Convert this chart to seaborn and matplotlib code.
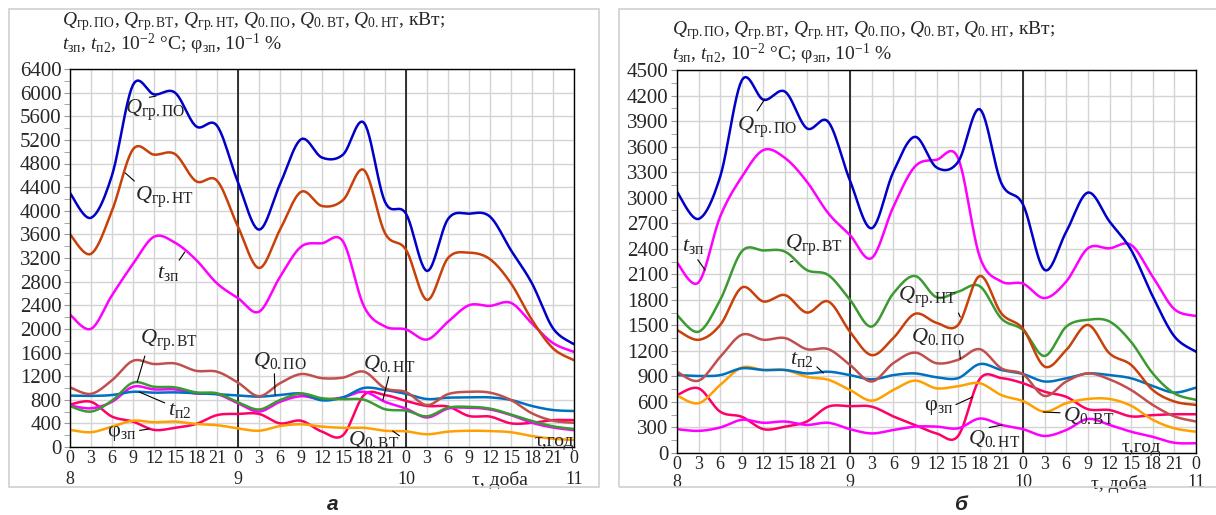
import numpy as np
import pandas as pd
import matplotlib.pyplot as plt
import seaborn as sns
from matplotlib.patches import Rectangle

sns.set_style('white')
plt.rcParams['font.family'] = ['Liberation Serif', 'DejaVu Serif']
plt.rcParams['mathtext.fontset'] = 'custom'
plt.rcParams['mathtext.rm'] = 'Liberation Serif'
plt.rcParams['mathtext.it'] = 'Liberation Serif:italic'
plt.rcParams['mathtext.bf'] = 'Liberation Serif:bold'

# hours from 0 h of day 8 to 0 h of day 11, every 3 h
hours = list(range(0, 73, 3))
hour_labels = [str(h % 24) for h in hours]
days = ['8', '9', '10', '11']

# ---- panel a ----
a_gr_po = [4300, 3880, 4600, 6130, 5970, 6000, 5430, 5440, 4480, 3680, 4450, 5210, 4900,
           4950, 5490, 4150, 3950, 2980, 3860, 3950, 3900, 3330, 2770, 2010, 1740]
a_gr_nt = [3600, 3270, 4000, 5040, 4950, 4960, 4500, 4510, 3730, 3030, 3680, 4320, 4080,
           4180, 4690, 3620, 3340, 2490, 3200, 3290, 3180, 2770, 2150, 1670, 1470]
a_t_zp = [2240, 2000, 2570, 3100, 3560, 3460, 3170, 2770, 2520, 2290, 2880, 3390, 3450,
          3480, 2380, 2040, 1990, 1820, 2120, 2400, 2390, 2440, 2090, 1760, 1610]
a_0_po = [1010, 900, 1130, 1460, 1405, 1415, 1290, 1275, 1090, 860, 1080, 1235, 1165,
          1175, 1275, 995, 930, 710, 895, 935, 920, 795, 570, 445, 410]
a_gr_vt = [690, 600, 785, 1090, 1020, 1010, 925, 910, 760, 635, 795, 905, 825,
           810, 800, 640, 615, 520, 665, 680, 650, 550, 440, 350, 305]
a_t_p2 = [870, 865, 880, 935, 920, 925, 910, 895, 870, 852, 880, 905, 790,
          840, 1000, 965, 900, 812, 835, 840, 840, 796, 694, 626, 609]
a_0_nt = [705, 655, 765, 1020, 975, 975, 905, 895, 740, 600, 765, 860, 805,
          840, 935, 765, 650, 500, 650, 665, 635, 540, 410, 330, 285]
a_phi = [720, 765, 515, 430, 290, 325, 390, 540, 560, 560, 400, 445, 260,
         200, 880, 880, 780, 695, 685, 525, 515, 400, 410, 455, 455]
a_0_vt = [290, 250, 345, 445, 420, 430, 390, 370, 315, 275, 355, 385, 345,
          325, 325, 275, 265, 215, 260, 275, 270, 250, 185, 140, 120]

# ---- panel b ----
b_gr_po = [3070, 2750, 3250, 4380, 4150, 4245, 3815, 3890, 3200, 2640, 3300, 3715, 3355,
           3420, 4040, 3170, 2920, 2150, 2600, 3060, 2720, 2385, 1840, 1370, 1190]
b_t_zp = [2235, 2005, 2780, 3245, 3560, 3465, 3190, 2815, 2560, 2290, 2890, 3365, 3445,
          3465, 2305, 2015, 1990, 1820, 2015, 2405, 2405, 2445, 2070, 1690, 1610]
b_gr_vt = [1620, 1425, 1800, 2370, 2380, 2365, 2150, 2090, 1800, 1485, 1875, 2080, 1830,
           1895, 1960, 1580, 1445, 1140, 1485, 1565, 1545, 1305, 935, 700, 625]
b_gr_nt = [1445, 1330, 1505, 1945, 1780, 1855, 1650, 1780, 1425, 1150, 1350, 1635, 1530,
           1505, 2080, 1640, 1460, 1015, 1210, 1505, 1170, 1035, 740, 605, 565]
b_0_po = [955, 850, 1130, 1390, 1330, 1350, 1220, 1220, 1035, 840, 1055, 1180, 1055,
          1095, 1220, 995, 925, 670, 840, 935, 865, 740, 565, 430, 370]
b_t_p2 = [915, 905, 915, 995, 975, 975, 935, 955, 915, 865, 915, 935, 890,
          880, 1045, 975, 928, 840, 878, 935, 915, 878, 787, 710, 768]
b_0_vt = [675, 585, 800, 1005, 975, 975, 895, 860, 740, 615, 740, 850, 760,
          785, 820, 680, 610, 485, 585, 635, 635, 555, 390, 290, 250]
b_0_nt = [280, 260, 300, 390, 355, 370, 330, 355, 280, 230, 270, 310, 310,
          290, 405, 330, 280, 200, 270, 400, 330, 250, 190, 120, 115]
b_phi = [680, 760, 485, 425, 280, 310, 370, 545, 550, 545, 430, 330, 230,
         200, 870, 880, 820, 720, 660, 515, 505, 430, 445, 455, 455]

labels = {
    'gr_po': r'$Q_{\mathrm{гр.ПО}}$',
    'gr_vt': r'$Q_{\mathrm{гр.ВТ}}$',
    'gr_nt': r'$Q_{\mathrm{гр.НТ}}$',
    '0_po': r'$Q_{\mathrm{0.ПО}}$',
    '0_vt': r'$Q_{\mathrm{0.ВТ}}$',
    '0_nt': r'$Q_{\mathrm{0.НТ}}$',
    't_zp': r'$t_{\mathrm{зп}}$',
    't_p2': r'$t_{\mathrm{п2}}$',
    'phi': r'φ$_{\mathrm{зп}}$',
}
colors = {
    'gr_po': '#0000C8', 'gr_nt': '#C8410A', 't_zp': '#FF00FF', '0_po': '#C0504D',
    'gr_vt': '#3C9A32', 't_p2': '#0070C0', '0_nt': '#FF00FF', 'phi': '#FF0066',
    '0_vt': '#FFA000',
}
order = ['phi', '0_vt', '0_nt', 't_p2', 'gr_vt', '0_po', 't_zp', 'gr_nt', 'gr_po']

series_a = {'gr_po': a_gr_po, 'gr_nt': a_gr_nt, 't_zp': a_t_zp, '0_po': a_0_po,
            'gr_vt': a_gr_vt, 't_p2': a_t_p2, '0_nt': a_0_nt, 'phi': a_phi, '0_vt': a_0_vt}
series_b = {'gr_po': b_gr_po, 'gr_nt': b_gr_nt, 't_zp': b_t_zp, '0_po': b_0_po,
            'gr_vt': b_gr_vt, 't_p2': b_t_p2, '0_nt': b_0_nt, 'phi': b_phi, '0_vt': b_0_vt}


def smooth(x, y, n=12):
    # Excel-style smoothed line (Bezier through every point)
    p = np.column_stack([x, y]).astype(float)
    ext = np.vstack([p[0], p, p[-1]])
    t = np.linspace(0, 1, n, endpoint=False)[:, None]
    segs = []
    for i in range(len(p) - 1):
        p0, p1, p2, p3 = ext[i], ext[i + 1], ext[i + 2], ext[i + 3]
        c1 = p1 + (p2 - p0) / 6
        c2 = p2 - (p3 - p1) / 6
        segs.append((1 - t) ** 3 * p1 + 3 * (1 - t) ** 2 * t * c1
                    + 3 * (1 - t) * t ** 2 * c2 + t ** 3 * p2)
    segs.append(p[-1:])
    return np.vstack(segs)


def long_df(series):
    frames = []
    for key in order:
        c = smooth(hours, series[key])
        frames.append(pd.DataFrame({'h': c[:, 0], 'v': c[:, 1], 's': key}))
    return pd.concat(frames, ignore_index=True)


W, H = 1216, 515
fig = plt.figure(figsize=(W / 100, H / 100), dpi=100)
ax_a = fig.add_axes([70 / W, 1 - 447 / H, 504 / W, 378 / H])
ax_b = fig.add_axes([677 / W, 1 - 453 / H, 519 / W, 383 / H])

for x0, x1 in [(9, 599), (619, 1240)]:
    fig.patches.append(Rectangle((x0 / W, 1 - 487 / H), (x1 - x0) / W, 478 / H,
                                 transform=fig.transFigure, fill=False,
                                 ec='#D0D0D0', lw=1.2))


def style(ax, ymax, ystep, day_y):
    ax.set_xlim(0, 72)
    ax.set_ylim(0, ymax)
    ax.set_xticks(hours)
    ax.set_xticklabels(hour_labels, fontsize=13)
    ax.set_yticks(np.arange(0, ymax + 1, ystep))
    ax.set_yticks(np.arange(0, ymax + 1, ystep / 2), minor=True)
    ax.tick_params(axis='y', labelsize=15)
    ax.grid(True, which='major', color='#D4D4D4', lw=1)
    ax.set_axisbelow(True)
    for sp in ax.spines.values():
        sp.set_color('black')
        sp.set_linewidth(1)
    ax.axvline(24, color='black', lw=1.1, zorder=1.5)
    ax.axvline(48, color='black', lw=1.1, zorder=1.5)
    ax.tick_params(axis='x', length=0, pad=2)
    ax.tick_params(axis='y', which='both', length=4, color='#999999', pad=2, left=True)
    ax.set_xlabel('')
    ax.set_ylabel('')
    for d, h in zip(days, [0, 24, 48, 72]):
        ax.text(h, day_y, d, transform=ax.get_xaxis_transform(), ha='center',
                va='center', fontsize=13)


for ax, series in [(ax_a, series_a), (ax_b, series_b)]:
    sns.lineplot(data=long_df(series), x='h', y='v', hue='s', hue_order=order,
                 palette=colors, estimator=None, sort=False, legend=False,
                 lw=1.8, ax=ax)

style(ax_a, 6400, 400, -0.085)
style(ax_b, 4500, 300, -0.076)

lead = dict(arrowstyle='-', color='black', lw=0.8, shrinkA=0, shrinkB=0)


def note(ax, key, txt, tgt, rel):
    ax.annotate(labels[key], xy=tgt, xytext=txt, ha='left', va='center', fontsize=16,
                arrowprops=dict(lead, relpos=rel))


note(ax_a, 'gr_po', (7.9, 5705), (12.3, 5942), (0.4, 1))
note(ax_a, 'gr_nt', (9.3, 4232), (7.9, 4639), (0.05, 1))
note(ax_a, 't_zp', (12.4, 2946), (16.4, 3301), (0.9, 1))
note(ax_a, 'gr_vt', (10.0, 1811), (9.6, 1100), (0.1, 0))
note(ax_a, 't_p2', (14.0, 626), (9.9, 931), (0, 0.8))
note(ax_a, 'phi', (5.3, 237), (11.3, 305), (0.95, 0.6))
note(ax_a, '0_po', (26.1, 1473), (29.3, 880), (0.4, 0))
note(ax_a, '0_nt', (41.9, 1422), (44.7, 796), (0.5, 0))
note(ax_a, '0_vt', (39.7, 119), (46.1, 271), (1, 0.7))
ax_a.text(72, 85, 'τ,год', ha='right', va='center', fontsize=14)
ax_a.text(61.4, -0.088, 'τ, доба', transform=ax_a.get_xaxis_transform(),
          ha='center', va='center', fontsize=14)

note(ax_b, 'gr_po', (8.3, 3831), (12.2, 4160), (0.3, 1))
note(ax_b, 't_zp', (0.7, 2421), (3.9, 2150), (0.6, 0))
note(ax_b, 'gr_vt', (15.0, 2444), (15.7, 2244), (0.3, 0))
note(ax_b, 't_p2', (15.7, 1093), (20.3, 940), (1, 0.3))
note(ax_b, 'gr_nt', (30.6, 1833), (39.3, 1598), (0.95, 0.3))
note(ax_b, '0_po', (32.4, 1363), (39.3, 1105), (0.9, 0.2))
note(ax_b, 'phi', (34.2, 529), (41.0, 658), (1, 0.6))
note(ax_b, '0_nt', (40.4, 176), (45.1, 329), (0.4, 1))
note(ax_b, '0_vt', (53.6, 446), (50.8, 482), (0, 0.6))
ax_b.text(67.1, 59, 'τ,год', ha='right', va='center', fontsize=14)
ax_b.text(61.3, -0.08, 'τ, доба', transform=ax_b.get_xaxis_transform(),
          ha='center', va='center', fontsize=14)

line1 = (r'$Q_{\mathrm{гр.ПО}}$, $Q_{\mathrm{гр.ВТ}}$, $Q_{\mathrm{гр.НТ}}$, '
         r'$Q_{\mathrm{0.ПО}}$, $Q_{\mathrm{0.ВТ}}$, $Q_{\mathrm{0.НТ}}$, кВт;')
line2 = r'$t_{\mathrm{зп}}$, $t_{\mathrm{п2}}$, 10$^{\mathrm{-2}}$ °C; φ$_{\mathrm{зп}}$, 10$^{\mathrm{-1}}$ %'
for x0, y1, y2 in [(62, 22, 44), (672, 31, 54)]:
    fig.text(x0 / W, 1 - y1 / H, line1, fontsize=14, va='center')
    fig.text(x0 / W, 1 - y2 / H, line2, fontsize=14, va='center')

for x0, t in [(333, 'а'), (960, 'б')]:
    fig.text(x0 / W, 1 - 504 / H, t, fontsize=15, fontweight='bold', style='italic',
             family='Liberation Sans', ha='center', va='center')

plt.savefig('out.png', dpi=100)
